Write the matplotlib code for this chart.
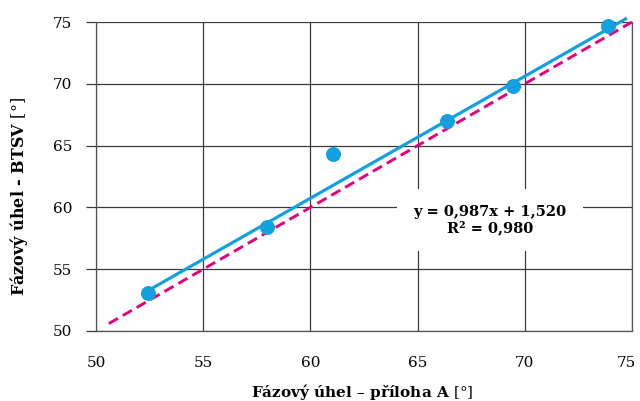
import matplotlib.pyplot as plt
import matplotlib.transforms as mtransforms
import numpy as np

plt.rcParams['font.family'] = ['DejaVu Serif']
plt.rcParams['mathtext.fontset'] = 'dejavuserif'

# data
x_priloha = [52.42, 57.98, 61.04, 66.35, 69.46, 73.9]
y_btsv = [53.04, 58.4, 64.3, 66.98, 69.84, 74.65]
slope = 0.987
intercept = 1.520
ticks = [50, 55, 60, 65, 70, 75]

fig = plt.figure(figsize=(6.4, 4.01), dpi=100)
ax = fig.add_axes([96 / 640, 1 - 331 / 401, 536 / 640, 309 / 401])

# identity line
ident = np.array([50.6, 75.0])
ax.plot(ident, ident, color='#e6007e', lw=2.1, ls=(0, (3.6, 1.9)), zorder=3, clip_on=False)

# trend line
xt = np.array([min(x_priloha), 74.7])
ax.plot(xt, slope * xt + intercept, color='#12a0e0', lw=2.3, zorder=4, clip_on=False)

ax.scatter(x_priloha, y_btsv, s=95, color='#12a0e0', zorder=5, clip_on=False)

ax.set_xlim(50, 75)
ax.set_ylim(50, 75)
ax.set_xticks(ticks)
ax.set_yticks(ticks)
ax.grid(True, color='#3a3a3a', lw=0.9)
ax.set_axisbelow(True)
ax.spines['top'].set_visible(False)
for s in ['left', 'bottom', 'right']:
    ax.spines[s].set_color('#555555')
    ax.spines[s].set_linewidth(0.9)
ax.tick_params(axis='y', length=7.2, width=0.9, color='#3a3a3a', labelsize=11, pad=10)
ax.tick_params(axis='x', length=0, labelsize=11, pad=18)

# last x label sits a bit to the left so it fits
lbl = ax.get_xticklabels()[-1]
lbl.set_transform(lbl.get_transform() + mtransforms.ScaledTranslation(-6 / 100, 0, fig.dpi_scale_trans))

ax.set_xlabel(r'Fázový úhel – příloha A $\mathrm{[°]}$', fontsize=11, fontweight='bold')
ax.xaxis.set_label_coords(0.497, -0.164)
ax.set_ylabel(r'Fázový úhel - BTSV $\mathrm{[°]}$', fontsize=11.5, fontweight='bold')
ax.yaxis.set_label_coords(-0.124, 0.434)

ax.text(68.38, 58.98, 'y = 0,987x + 1,520\nR² = 0,980', ha='center', va='center',
        fontsize=10.5, fontweight='bold', linespacing=1.15, zorder=6,
        bbox=dict(boxstyle='square,pad=1.1', facecolor='white', edgecolor='none'))

plt.savefig('out.png', dpi=100)
